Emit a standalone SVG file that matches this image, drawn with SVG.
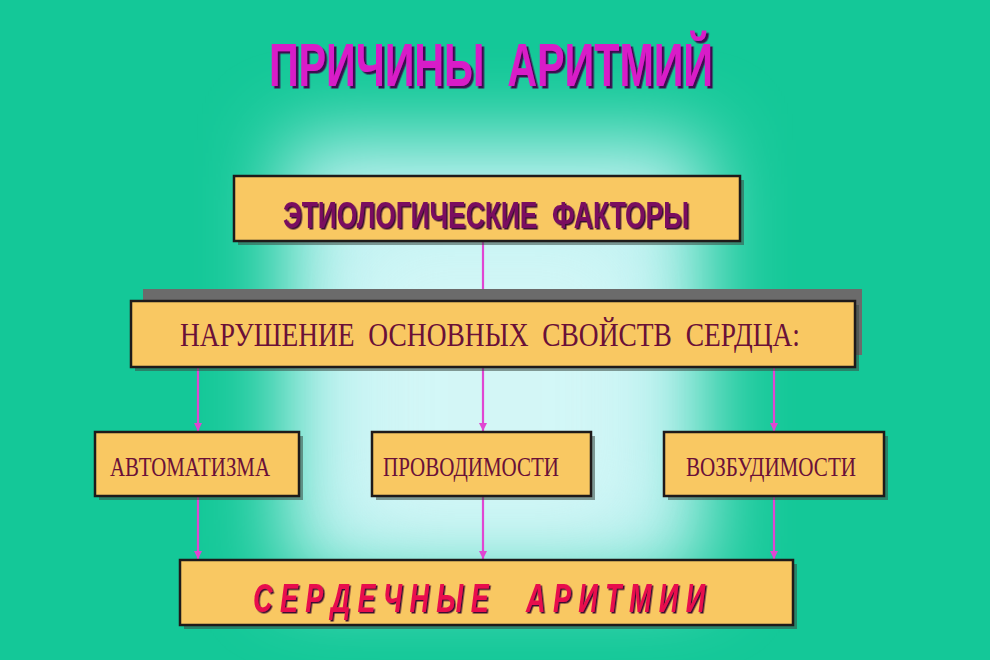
<svg xmlns="http://www.w3.org/2000/svg" width="990" height="660" viewBox="0 0 990 660">
<style>
.box{fill:#f9c862;stroke:#1e1a1a;stroke-width:2.5}
.shd{fill:#3a4a44;opacity:0.55}
.conn{stroke:#e046d2;stroke-width:2.2;fill:none}
.serif{font-family:"Liberation Serif","Times New Roman",serif;fill:#6a1038}
.sans{font-family:"Liberation Sans",Arial,sans-serif;font-weight:bold}
</style>
<defs>
<filter id="blur" x="-40%" y="-40%" width="180%" height="180%"><feGaussianBlur stdDeviation="40"/></filter>
<filter id="ts1" x="-5%" y="-20%" width="110%" height="150%"><feDropShadow dx="2.5" dy="2.5" stdDeviation="0.4" flood-color="#3a0a50" flood-opacity="1"/></filter>
<filter id="ts2" x="-5%" y="-20%" width="110%" height="150%"><feDropShadow dx="1.5" dy="1.5" stdDeviation="0.3" flood-color="#3a0830" flood-opacity="1"/></filter>
<marker id="ah" viewBox="0 0 10 10" refX="10" refY="5" markerWidth="8" markerHeight="11" orient="auto" markerUnits="userSpaceOnUse"><path d="M0,0 L10,5 L0,10 z" fill="#e046d2"/></marker>
</defs>
<rect width="990" height="660" fill="#14c898"/>
<rect x="285" y="140" width="420" height="440" fill="#c0f2f2" filter="url(#blur)"/>
<rect x="360" y="240" width="270" height="290" fill="#d8f8f8" filter="url(#blur)" opacity="0.8"/>
<g id="title">
<text x="491" y="86" text-anchor="middle" class="sans" font-size="62" fill="#d81ec8" textLength="444" lengthAdjust="spacingAndGlyphs" xml:space="preserve" filter="url(#ts1)">ПРИЧИНЫ  АРИТМИЙ</text>
</g>
<g id="connectors">
<line class="conn" x1="483" y1="242" x2="483" y2="300" marker-end="url(#ah)"/>
<line class="conn" x1="198" y1="368" x2="198" y2="431" marker-end="url(#ah)"/>
<line class="conn" x1="483" y1="368" x2="483" y2="431" marker-end="url(#ah)"/>
<line class="conn" x1="774" y1="368" x2="774" y2="431" marker-end="url(#ah)"/>
<line class="conn" x1="198" y1="497" x2="198" y2="559" marker-end="url(#ah)"/>
<line class="conn" x1="483" y1="497" x2="483" y2="559" marker-end="url(#ah)"/>
<line class="conn" x1="774" y1="497" x2="774" y2="559" marker-end="url(#ah)"/>
</g>
<g id="etiology">
<rect class="shd" x="238" y="180" width="506" height="65"/>
<rect class="box" x="234" y="176" width="506" height="65"/>
<text x="486" y="228" text-anchor="middle" class="sans" font-size="37" fill="#7a1060" textLength="406" lengthAdjust="spacingAndGlyphs" xml:space="preserve" filter="url(#ts2)">ЭТИОЛОГИЧЕСКИЕ  ФАКТОРЫ</text>
</g>
<g id="disorder">
<rect x="143" y="289" width="719" height="66" fill="#6b6b6b"/>
<rect class="shd" x="135" y="305" width="724" height="66"/>
<rect class="box" x="131" y="301" width="724" height="66"/>
<text x="490" y="346" text-anchor="middle" class="serif" font-size="34" textLength="620" lengthAdjust="spacingAndGlyphs" xml:space="preserve">НАРУШЕНИЕ  ОСНОВНЫХ  СВОЙСТВ  СЕРДЦА:</text>
</g>
<g id="automatism">
<rect class="shd" x="99" y="436" width="204" height="64"/>
<rect class="box" x="95" y="432" width="204" height="64"/>
<text x="190" y="476" text-anchor="middle" class="serif" font-size="28" textLength="160" lengthAdjust="spacingAndGlyphs">АВТОМАТИЗМА</text>
</g>
<g id="conduction">
<rect class="shd" x="376" y="436" width="219" height="64"/>
<rect class="box" x="372" y="432" width="219" height="64"/>
<text x="471" y="476" text-anchor="middle" class="serif" font-size="28" textLength="176" lengthAdjust="spacingAndGlyphs">ПРОВОДИМОСТИ</text>
</g>
<g id="excitability">
<rect class="shd" x="668" y="436" width="220" height="64"/>
<rect class="box" x="664" y="432" width="220" height="64"/>
<text x="771" y="476" text-anchor="middle" class="serif" font-size="28" textLength="170" lengthAdjust="spacingAndGlyphs">ВОЗБУДИМОСТИ</text>
</g>
<g id="arrhythmias">
<rect class="shd" x="184" y="564" width="613" height="65"/>
<rect class="box" x="180" y="560" width="613" height="65"/>
<text x="479" y="612" text-anchor="middle" class="sans" font-size="40" font-style="italic" fill="#e8104e" textLength="452" lengthAdjust="spacingAndGlyphs" xml:space="preserve" filter="url(#ts2)">С Е Р Д Е Ч Н Ы Е     А Р И Т М И И</text>
</g>
</svg>
